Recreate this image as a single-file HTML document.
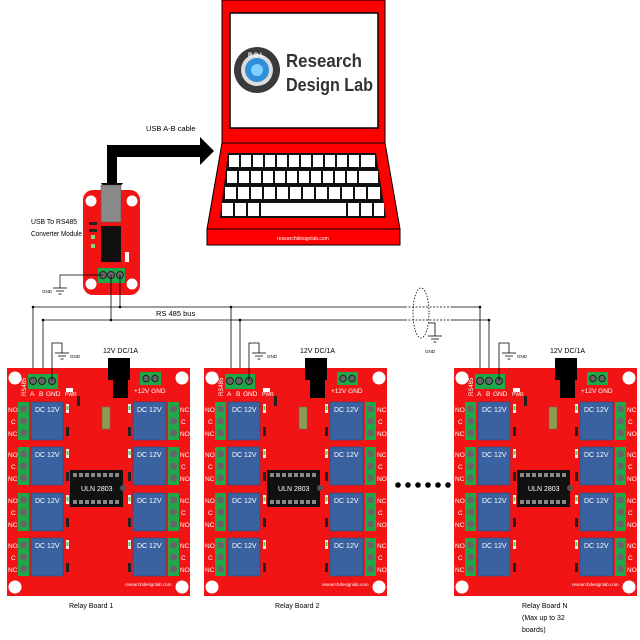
<!DOCTYPE html>
<html><head><meta charset="utf-8"><style>
html,body{margin:0;padding:0;background:#fff;}
svg{display:block;}
text{font-family:"Liberation Sans",sans-serif;}
</style></head><body>
<svg width="640" height="640" viewBox="0 0 640 640" xmlns="http://www.w3.org/2000/svg">
<defs>
<g id="bd">
  <rect x="7" y="368" width="183" height="228" fill="#f21414"/>
  <circle cx="15" cy="378" r="6.5" fill="#fff"/>
  <circle cx="182" cy="378" r="6.5" fill="#fff"/>
  <circle cx="15" cy="587" r="6.5" fill="#fff"/>
  <circle cx="182" cy="587" r="6.5" fill="#fff"/>
  <rect x="28" y="374" width="30" height="15" fill="#1fa84a"/>
  <circle cx="33" cy="381" r="3.5" fill="#666" stroke="#222"/>
  <circle cx="42" cy="381" r="3.5" fill="#666" stroke="#222"/>
  <circle cx="52" cy="381" r="3.5" fill="#666" stroke="#222"/>
  <rect x="108" y="358" width="22" height="22" fill="#000"/>
  <rect x="113" y="378" width="15" height="20" fill="#000"/>
  <rect x="140" y="372" width="21" height="13" fill="#1fa84a"/>
  <circle cx="146" cy="378.5" r="3.2" fill="#666" stroke="#222"/>
  <circle cx="155" cy="378.5" r="3.2" fill="#666" stroke="#222"/>
  <rect x="66" y="388" width="7" height="4" fill="#fff"/>
  <rect x="77" y="396" width="3" height="10" fill="#222"/>
  <rect x="102" y="407" width="8" height="22" fill="#8e9a50" stroke="#666" stroke-width="0.5"/>
  <rect x="70" y="470" width="53" height="37" fill="#111"/>
  <g fill="#888">
    <rect x="73" y="473" width="4" height="4"/><rect x="79" y="473" width="4" height="4"/><rect x="85" y="473" width="4" height="4"/><rect x="91" y="473" width="4" height="4"/><rect x="97" y="473" width="4" height="4"/><rect x="103" y="473" width="4" height="4"/><rect x="109" y="473" width="4" height="4"/><rect x="115" y="473" width="4" height="4"/>
    <rect x="73" y="500" width="4" height="4"/><rect x="79" y="500" width="4" height="4"/><rect x="85" y="500" width="4" height="4"/><rect x="91" y="500" width="4" height="4"/><rect x="97" y="500" width="4" height="4"/><rect x="103" y="500" width="4" height="4"/><rect x="109" y="500" width="4" height="4"/><rect x="115" y="500" width="4" height="4"/>
  </g>
  <circle cx="123" cy="488" r="3" fill="#555"/>
  <g id="row">
    <rect x="18" y="402" width="11" height="38" fill="#1fa84a"/>
    <circle cx="23.5" cy="409" r="3.5" fill="#666"/>
    <circle cx="23.5" cy="421" r="3.5" fill="#666"/>
    <circle cx="23.5" cy="433" r="3.5" fill="#666"/>
    <rect x="31" y="402" width="32" height="38" fill="#3a62a0" stroke="#2a4c7a" stroke-width="0.6"/>
    <rect x="66" y="404" width="3" height="9" fill="#eee"/><rect x="66.5" y="406" width="2" height="4" fill="#5c5"/>
    <rect x="66" y="427" width="3" height="9" fill="#222"/>
    <rect x="128" y="404" width="3" height="9" fill="#eee"/><rect x="128.5" y="406" width="2" height="4" fill="#5c5"/>
    <rect x="128" y="427" width="3" height="9" fill="#222"/>
    <rect x="133" y="402" width="33" height="38" fill="#3a62a0" stroke="#2a4c7a" stroke-width="0.6"/>
    <rect x="168" y="402" width="11" height="38" fill="#1fa84a"/>
    <circle cx="173.5" cy="409" r="3.5" fill="#666"/>
    <circle cx="173.5" cy="421" r="3.5" fill="#666"/>
    <circle cx="173.5" cy="433" r="3.5" fill="#666"/>
  </g>
  <use href="#row" y="45"/>
  <use href="#row" y="91"/>
  <use href="#row" y="136"/>
  <polyline points="52,381 52,343 62,343 62,353" fill="none" stroke="#000" stroke-width="0.8"/>
  <line x1="55" y1="353" x2="69" y2="353" stroke="#000" stroke-width="0.8"/>
  <line x1="58" y1="356" x2="66" y2="356" stroke="#000" stroke-width="0.8"/>
  <line x1="60.5" y1="359" x2="63.5" y2="359" stroke="#000" stroke-width="0.8"/>
</g>
</defs>

<!-- Laptop -->
<rect x="222" y="0" width="163" height="143" fill="#f00" stroke="#000" stroke-width="1"/>
<rect x="230" y="13" width="148" height="115" fill="#fff" stroke="#000" stroke-width="1.5"/>
<polygon points="222,143 385,143 400,229 207,229" fill="#f00" stroke="#000" stroke-width="1"/>
<rect x="207" y="229" width="193" height="16" fill="#f00" stroke="#000" stroke-width="1"/>
<text x="303" y="240" font-size="5" fill="#fff" text-anchor="middle">researchdesignlab.com</text>
<polygon points="228,153 376,153 386,218 220,218" fill="#111"/>
<g fill="#fff">
  <rect x="229" y="155" width="10" height="12"/><rect x="241" y="155" width="10" height="12"/><rect x="253" y="155" width="10" height="12"/><rect x="265" y="155" width="10" height="12"/><rect x="277" y="155" width="10" height="12"/><rect x="289" y="155" width="10" height="12"/><rect x="301" y="155" width="10" height="12"/><rect x="313" y="155" width="10" height="12"/><rect x="325" y="155" width="10" height="12"/><rect x="337" y="155" width="10" height="12"/><rect x="349" y="155" width="10" height="12"/><rect x="361" y="155" width="14" height="12"/>
  <rect x="227" y="171" width="10" height="12"/><rect x="239" y="171" width="10" height="12"/><rect x="251" y="171" width="10" height="12"/><rect x="263" y="171" width="10" height="12"/><rect x="275" y="171" width="10" height="12"/><rect x="287" y="171" width="10" height="12"/><rect x="299" y="171" width="10" height="12"/><rect x="311" y="171" width="10" height="12"/><rect x="323" y="171" width="10" height="12"/><rect x="335" y="171" width="10" height="12"/><rect x="347" y="171" width="10" height="12"/><rect x="359" y="171" width="19" height="12"/>
  <rect x="225" y="187" width="11" height="12"/><rect x="238" y="187" width="11" height="12"/><rect x="251" y="187" width="11" height="12"/><rect x="264" y="187" width="11" height="12"/><rect x="277" y="187" width="11" height="12"/><rect x="290" y="187" width="11" height="12"/><rect x="303" y="187" width="11" height="12"/><rect x="316" y="187" width="11" height="12"/><rect x="329" y="187" width="11" height="12"/><rect x="342" y="187" width="11" height="12"/><rect x="355" y="187" width="11" height="12"/><rect x="368" y="187" width="12" height="12"/>
  <rect x="222" y="203" width="11" height="13"/><rect x="235" y="203" width="11" height="13"/><rect x="248" y="203" width="11" height="13"/><rect x="261" y="203" width="85" height="13"/><rect x="348" y="203" width="11" height="13"/><rect x="361" y="203" width="11" height="13"/><rect x="374" y="203" width="10" height="13"/>
</g>
<circle cx="257" cy="70" r="23" fill="#3a3a3a"/>
<circle cx="257" cy="70" r="16" fill="#ddd"/>
<circle cx="257" cy="70" r="12" fill="#2f8fd8"/>
<circle cx="257" cy="70" r="6" fill="#7fd0ff"/>
<text x="248" y="57" font-size="6" fill="#fff" font-weight="bold">R D L</text>
<text x="286" y="67" font-size="18" font-weight="bold" fill="#333" textLength="76" lengthAdjust="spacingAndGlyphs">Research</text>
<text x="286" y="91" font-size="18" font-weight="bold" fill="#333" textLength="87" lengthAdjust="spacingAndGlyphs">Design Lab</text>

<!-- Arrow -->
<polygon points="107,157 107,183 101,183 112,196 123,183 117,183 117,157 200,157 200,165 214,151 200,137 200,145 107,145" fill="#000"/>
<text x="146" y="131" font-size="7.5" fill="#000">USB A-B cable</text>

<!-- Converter -->
<text x="31" y="224" font-size="7" fill="#000" textLength="46" lengthAdjust="spacingAndGlyphs">USB To RS485</text>
<text x="31" y="236" font-size="7" fill="#000" textLength="51" lengthAdjust="spacingAndGlyphs">Converter Module</text>
<rect x="83" y="190" width="57" height="105" rx="10" fill="#f21414"/>
<circle cx="91" cy="201" r="5.5" fill="#fff"/><circle cx="132" cy="201" r="5.5" fill="#fff"/>
<circle cx="91" cy="284" r="5.5" fill="#fff"/><circle cx="132" cy="284" r="5.5" fill="#fff"/>
<rect x="101" y="185" width="20" height="37" fill="#8a8a8a" stroke="#555" stroke-width="0.5"/>
<rect x="101" y="226" width="20" height="36" fill="#111"/>
<rect x="89" y="222" width="8" height="3" fill="#222"/><rect x="89" y="229" width="8" height="3" fill="#222"/>
<rect x="91" y="235" width="4" height="4" fill="#7d7"/><rect x="91" y="244" width="4" height="4" fill="#7d7"/>
<rect x="125" y="252" width="4" height="10" fill="#fff"/>
<rect x="98" y="268" width="27" height="15" fill="#1fa84a"/>
<circle cx="103" cy="275" r="3.5" fill="#666" stroke="#222"/>
<circle cx="111" cy="275" r="3.5" fill="#666" stroke="#222"/>
<circle cx="120" cy="275" r="3.5" fill="#666" stroke="#222"/>
<polyline points="103,275 60,275 60,288" fill="none" stroke="#000" stroke-width="0.7"/>
<line x1="53" y1="288" x2="67" y2="288" stroke="#000" stroke-width="0.8"/>
<line x1="56" y1="291" x2="64" y2="291" stroke="#000" stroke-width="0.8"/>
<line x1="58.5" y1="294" x2="61.5" y2="294" stroke="#000" stroke-width="0.8"/>
<text x="42" y="293" font-size="4.5" fill="#000">GND</text>

<!-- Bus -->
<g stroke="#000" stroke-width="0.8" fill="none">
  <line x1="33" y1="307" x2="405" y2="307"/>
  <line x1="43" y1="320" x2="405" y2="320"/>
  <line x1="405" y1="307" x2="452" y2="307" stroke-dasharray="2,1.5"/>
  <line x1="405" y1="320" x2="452" y2="320" stroke-dasharray="2,1.5"/>
  <line x1="452" y1="307" x2="480" y2="307"/>
  <line x1="452" y1="320" x2="489" y2="320"/>
  <line x1="120" y1="275" x2="120" y2="307"/>
  <line x1="111" y1="275" x2="111" y2="320"/>
  <line x1="33" y1="307" x2="33" y2="381"/>
  <line x1="43" y1="320" x2="43" y2="381"/>
  <line x1="231" y1="307" x2="231" y2="381"/>
  <line x1="240" y1="320" x2="240" y2="381"/>
  <line x1="480" y1="307" x2="480" y2="381"/>
  <line x1="489" y1="320" x2="489" y2="381"/>
  <ellipse cx="421" cy="313" rx="8" ry="25" stroke-dasharray="1.5,1.5"/>
  <polyline points="429,323 435,323 435,336"/>
  <line x1="428" y1="336" x2="442" y2="336"/>
  <line x1="431" y1="339" x2="439" y2="339"/>
  <line x1="433.5" y1="342" x2="436.5" y2="342"/>
</g>
<g fill="#000">
  <circle cx="33" cy="307" r="1.3"/><circle cx="43" cy="320" r="1.3"/><circle cx="120" cy="307" r="1.3"/><circle cx="111" cy="320" r="1.3"/>
  <circle cx="231" cy="307" r="1.3"/><circle cx="240" cy="320" r="1.3"/><circle cx="480" cy="307" r="1.3"/><circle cx="489" cy="320" r="1.3"/>
</g>
<text x="156" y="316" font-size="7.5" fill="#000">RS 485 bus</text>
<text x="425" y="353" font-size="4.5" fill="#000">GND</text>

<!-- Boards -->
<use href="#bd"/>
<use href="#bd" x="197"/>
<use href="#bd" x="447"/>

<g font-size="4.5" fill="#000"><text x="70" y="358">GND</text><text x="267" y="358">GND</text><text x="517" y="358">GND</text></g>

<g>
<text x="103" y="353" font-size="7" fill="#000">12V DC/1A</text>
<text x="26" y="396" font-size="6" fill="#fff" transform="rotate(-90 26 396)">RS485</text>
<text x="30" y="396" font-size="6.5" fill="#fff">A</text>
<text x="39" y="396" font-size="6.5" fill="#fff">B</text>
<text x="46" y="396" font-size="6.5" fill="#fff">GND</text>
<text x="65" y="396" font-size="5" fill="#fff">PWR</text>
<text x="134" y="393" font-size="6.5" fill="#fff">+12V GND</text>
<text x="81" y="491" font-size="7" fill="#fff">ULN 2803</text>
<text x="125" y="586" font-size="4.5" fill="#fff">researchdesignlab.com</text>
<g font-size="7" fill="#fff">
<text x="35" y="412">DC 12V</text><text x="137" y="412">DC 12V</text>
<text x="35" y="457">DC 12V</text><text x="137" y="457">DC 12V</text>
<text x="35" y="503">DC 12V</text><text x="137" y="503">DC 12V</text>
<text x="35" y="548">DC 12V</text><text x="137" y="548">DC 12V</text>
</g>
<g font-size="6.5" fill="#fff">
<text x="8" y="412">NO</text><text x="11" y="424">C</text><text x="8" y="436">NC</text>
<text x="8" y="457">NO</text><text x="11" y="469">C</text><text x="8" y="481">NC</text>
<text x="8" y="503">NO</text><text x="11" y="515">C</text><text x="8" y="527">NC</text>
<text x="8" y="548">NO</text><text x="11" y="560">C</text><text x="8" y="572">NC</text>
<text x="180" y="412">NC</text><text x="181" y="424">C</text><text x="180" y="436">NO</text>
<text x="180" y="457">NC</text><text x="181" y="469">C</text><text x="180" y="481">NO</text>
<text x="180" y="503">NC</text><text x="181" y="515">C</text><text x="180" y="527">NO</text>
<text x="180" y="548">NC</text><text x="181" y="560">C</text><text x="180" y="572">NO</text>
</g>
</g>
<g transform="translate(197 0)">
<text x="103" y="353" font-size="7" fill="#000">12V DC/1A</text>
<text x="26" y="396" font-size="6" fill="#fff" transform="rotate(-90 26 396)">RS485</text>
<text x="30" y="396" font-size="6.5" fill="#fff">A</text>
<text x="39" y="396" font-size="6.5" fill="#fff">B</text>
<text x="46" y="396" font-size="6.5" fill="#fff">GND</text>
<text x="65" y="396" font-size="5" fill="#fff">PWR</text>
<text x="134" y="393" font-size="6.5" fill="#fff">+12V GND</text>
<text x="81" y="491" font-size="7" fill="#fff">ULN 2803</text>
<text x="125" y="586" font-size="4.5" fill="#fff">researchdesignlab.com</text>
<g font-size="7" fill="#fff">
<text x="35" y="412">DC 12V</text><text x="137" y="412">DC 12V</text>
<text x="35" y="457">DC 12V</text><text x="137" y="457">DC 12V</text>
<text x="35" y="503">DC 12V</text><text x="137" y="503">DC 12V</text>
<text x="35" y="548">DC 12V</text><text x="137" y="548">DC 12V</text>
</g>
<g font-size="6.5" fill="#fff">
<text x="8" y="412">NO</text><text x="11" y="424">C</text><text x="8" y="436">NC</text>
<text x="8" y="457">NO</text><text x="11" y="469">C</text><text x="8" y="481">NC</text>
<text x="8" y="503">NO</text><text x="11" y="515">C</text><text x="8" y="527">NC</text>
<text x="8" y="548">NO</text><text x="11" y="560">C</text><text x="8" y="572">NC</text>
<text x="180" y="412">NC</text><text x="181" y="424">C</text><text x="180" y="436">NO</text>
<text x="180" y="457">NC</text><text x="181" y="469">C</text><text x="180" y="481">NO</text>
<text x="180" y="503">NC</text><text x="181" y="515">C</text><text x="180" y="527">NO</text>
<text x="180" y="548">NC</text><text x="181" y="560">C</text><text x="180" y="572">NO</text>
</g>
</g>
<g transform="translate(447 0)">
<text x="103" y="353" font-size="7" fill="#000">12V DC/1A</text>
<text x="26" y="396" font-size="6" fill="#fff" transform="rotate(-90 26 396)">RS485</text>
<text x="30" y="396" font-size="6.5" fill="#fff">A</text>
<text x="39" y="396" font-size="6.5" fill="#fff">B</text>
<text x="46" y="396" font-size="6.5" fill="#fff">GND</text>
<text x="65" y="396" font-size="5" fill="#fff">PWR</text>
<text x="134" y="393" font-size="6.5" fill="#fff">+12V GND</text>
<text x="81" y="491" font-size="7" fill="#fff">ULN 2803</text>
<text x="125" y="586" font-size="4.5" fill="#fff">researchdesignlab.com</text>
<g font-size="7" fill="#fff">
<text x="35" y="412">DC 12V</text><text x="137" y="412">DC 12V</text>
<text x="35" y="457">DC 12V</text><text x="137" y="457">DC 12V</text>
<text x="35" y="503">DC 12V</text><text x="137" y="503">DC 12V</text>
<text x="35" y="548">DC 12V</text><text x="137" y="548">DC 12V</text>
</g>
<g font-size="6.5" fill="#fff">
<text x="8" y="412">NO</text><text x="11" y="424">C</text><text x="8" y="436">NC</text>
<text x="8" y="457">NO</text><text x="11" y="469">C</text><text x="8" y="481">NC</text>
<text x="8" y="503">NO</text><text x="11" y="515">C</text><text x="8" y="527">NC</text>
<text x="8" y="548">NO</text><text x="11" y="560">C</text><text x="8" y="572">NC</text>
<text x="180" y="412">NC</text><text x="181" y="424">C</text><text x="180" y="436">NO</text>
<text x="180" y="457">NC</text><text x="181" y="469">C</text><text x="180" y="481">NO</text>
<text x="180" y="503">NC</text><text x="181" y="515">C</text><text x="180" y="527">NO</text>
<text x="180" y="548">NC</text><text x="181" y="560">C</text><text x="180" y="572">NO</text>
</g>
</g>

<g fill="#000">
<circle cx="398" cy="485" r="2.8"/><circle cx="408" cy="485" r="2.8"/><circle cx="418" cy="485" r="2.8"/><circle cx="428" cy="485" r="2.8"/><circle cx="438" cy="485" r="2.8"/><circle cx="448" cy="485" r="2.8"/>
</g>

<g font-size="7" fill="#000">
<text x="69" y="608">Relay Board 1</text>
<text x="275" y="608">Relay Board 2</text>
<text x="522" y="608">Relay Board N</text>
<text x="522" y="620">(Max up to 32</text>
<text x="522" y="632">boards)</text>
</g>
</svg>
</body></html>
